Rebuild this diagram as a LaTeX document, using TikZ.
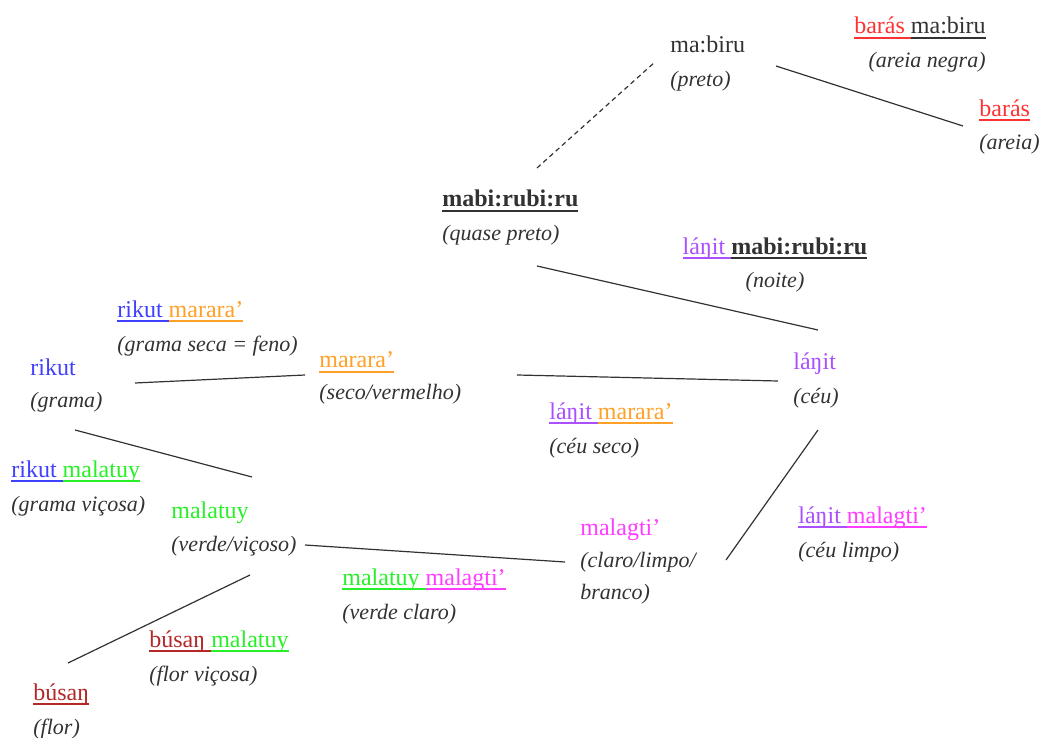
\documentclass[tikz,border=0pt]{standalone}
\usepackage{fontspec}
\setmainfont{Liberation Serif}
\usepackage{tikz}

\definecolor{ink}{RGB}{50,50,50}
\definecolor{rikutc}{RGB}{64,64,255}
\definecolor{mararac}{RGB}{255,160,40}
\definecolor{lanitc}{RGB}{170,80,255}
\definecolor{malatuyc}{RGB}{40,240,40}
\definecolor{malagtic}{RGB}{255,60,255}
\definecolor{busanc}{RGB}{180,40,40}
\definecolor{barasc}{RGB}{255,50,50}

% underlined word, rule at a fixed depth
\newcommand\uword[1]{\setbox0=\hbox{#1}\rlap{\rule[-2.4pt]{\wd0}{0.7pt}}\box0}
\newcommand\uw[2]{\textcolor{#1}{\uword{#2}}}
% gloss line
\newcommand\gl[1]{{\fontsize{11}{17}\selectfont\itshape #1}}

\begin{document}
\begin{tikzpicture}[x=0.5pt,y=-0.5pt,
 entry/.style={align=left,anchor=base west,inner sep=0pt,text=ink,
  font=\fontsize{12}{17}\selectfont},
 link/.style={draw=ink,line width=0.6pt}]
\useasboundingbox (0,0) rectangle (1041,738);
% nodes sit on the baseline of their last line
\node[entry] (mabiru) at (670,87) {ma:biru\\\gl{(preto)}};
\node[entry,align=right,anchor=base east] (barasmabiru) at (986,68)
 {\uw{barasc}{barás }\uw{ink}{ma:biru}\\\gl{(areia negra)}};
\node[entry] (baras) at (979,150) {\uw{barasc}{barás}\\\gl{(areia)}};
\node[entry] (mabirubiru) at (442,241)
 {\textbf{\uword{mabi:rubi:ru}}\\\gl{(quase preto)}};
\node[entry,align=center,anchor=base] (noite) at (775,288)
 {\uw{lanitc}{láŋit }\textbf{\uword{mabi:rubi:ru}}\\\gl{(noite)}};
\node[entry] (rikutmarara) at (117,351)
 {\uw{rikutc}{rikut }\uw{mararac}{marara’}\\\gl{(grama seca = feno)}};
\node[entry] (rikut) at (30,408) {\textcolor{rikutc}{rikut}\\[-1pt]\gl{(grama)}};
\node[entry] (marara) at (319,400) {\uw{mararac}{marara’}\\[-1pt]\gl{(seco/vermelho)}};
\node[entry] (lanit) at (793,403) {\textcolor{lanitc}{láŋit}\\\gl{(céu)}};
\node[entry] (lanitmarara) at (549,453)
 {\uw{lanitc}{láŋit }\uw{mararac}{marara’}\\\gl{(céu seco)}};
\node[entry] (rikutmalatuy) at (11,511)
 {\uw{rikutc}{rikut }\uw{malatuyc}{malatuy}\\\gl{(grama viçosa)}};
\node[entry] (malatuy) at (171,552)
 {\textcolor{malatuyc}{malatuy}\\\gl{(verde/viçoso)}};
\node[entry] (malagti) at (580,599)
 {\textcolor{malagtic}{malagti’}\\[-1pt]\gl{(claro/limpo/}\\[-1pt]\gl{branco)}};
\node[entry] (lanitmalagti) at (798,557)
 {\uw{lanitc}{láŋit }\uw{malagtic}{malagti’}\\\gl{(céu limpo)}};
\node[entry] (malatuymalagti) at (342,619)
 {\uw{malatuyc}{malatuy }\uw{malagtic}{malagti’}\\\gl{(verde claro)}};
\node[entry] (busanmalatuy) at (149,681)
 {\uw{busanc}{búsaŋ }\uw{malatuyc}{malatuy}\\\gl{(flor viçosa)}};
\node[entry] (busan) at (33,734) {\uw{busanc}{búsaŋ}\\\gl{(flor)}};

\draw[link,dash pattern=on 2.4pt off 1.8pt] ([shift={(95,-73)}]mabirubiru.base west)
 -- ([shift={(-15,-25)}]mabiru.base west);
\draw[link] ([shift={(106,-21)}]mabiru.base west) -- ([shift={(-16,-24)}]baras.base west);
\draw[link] ([shift={(95,25)}]mabirubiru.base west) -- ([shift={(25,-73)}]lanit.base west);
\draw[link] ([shift={(105,-25)}]rikut.base west) -- ([shift={(-14,-25)}]marara.base west);
\draw[link] ([shift={(198,-25)}]marara.base west) -- ([shift={(-15,-22)}]lanit.base west);
\draw[link] ([shift={(45,22)}]rikut.base west) -- ([shift={(81,-75)}]malatuy.base west);
\draw[link] ([shift={(134,-7)}]malatuy.base west) -- ([shift={(-15,-37)}]malagti.base west);
\draw[link] ([shift={(25,27)}]lanit.base west) -- ([shift={(146,-39)}]malagti.base west);
\draw[link] ([shift={(79,23)}]malatuy.base west) -- ([shift={(35,-71)}]busan.base west);
\end{tikzpicture}
\end{document}
